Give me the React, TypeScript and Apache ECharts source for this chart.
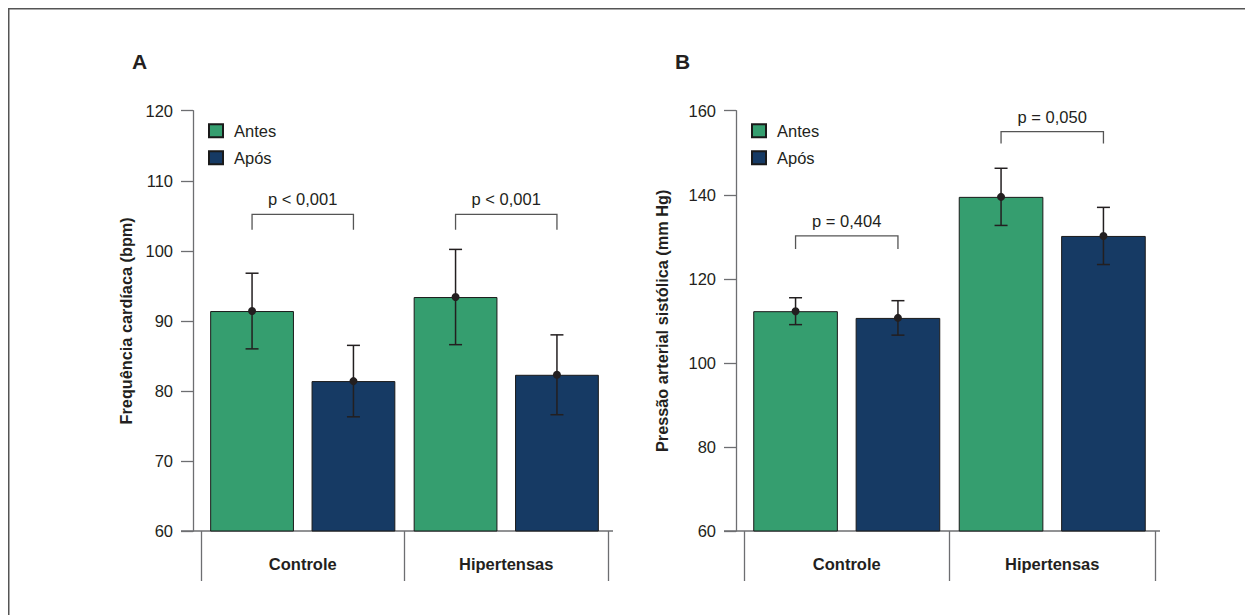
import React, { useEffect, useRef } from "react";
import * as echarts from "echarts";

// ---------- data ----------
const categories = ["Controle", "Hipertensas"];
const seriesNames = ["Antes", "Após"];

// Panel A – Frequência cardíaca (bpm)
const hrAntes = [91.4, 93.4];
const hrAntesSd = [5.4, 6.8];
const hrApos = [81.4, 82.3];
const hrAposSd = [5.1, 5.7];
const hrBrackets = [
  [0, 105.2, 103.0],
  [1, 105.2, 103.0],
];
const hrBracketLabels = ["p < 0,001", "p < 0,001"];

// Panel B – Pressão arterial sistólica (mm Hg)
const paAntes = [112.3, 139.5];
const paAntesSd = [3.2, 6.8];
const paApos = [110.7, 130.2];
const paAposSd = [4.1, 6.8];
const paBrackets = [
  [0, 130.2, 127.1],
  [1, 155.0, 152.2],
];
const paBracketLabels = ["p = 0,404", "p = 0,050"];

// ---------- style ----------
const GREEN = "#359e6f";
const NAVY = "#163a64";
const INK = "#231f20";
const AXIS = "#6d6e71";
const FONT = "'Liberation Sans', Arial, sans-serif";
const FS = 16.5;
const CAT_GAP = 0.09;
const BAR_GAP = 0.21;

const W = 1245;
const H = 607;
const TOP = 102.7;
const HEIGHT = 420.3;
const panels = [
  { left: 193, width: 407, nameGap: 59 },
  { left: 736, width: 411, nameGap: 66 },
];

function slotOffset(api: any, slot: number) {
  const band = api.size([1, 0])[0];
  const bw = (band * (1 - CAT_GAP)) / (2 + BAR_GAP);
  return (slot === 0 ? -1 : 1) * (bw * (1 + BAR_GAP)) / 2;
}

function errorSeries(idx: number, means: number[], sds: number[], slot: number) {
  return {
    type: "custom",
    xAxisIndex: idx,
    yAxisIndex: idx,
    z: 5,
    silent: true,
    encode: { x: 0, y: [1, 2, 3] },
    data: means.map((m, i) => [i, m, m - sds[i], m + sds[i]]),
    renderItem: (params: any, api: any) => {
      const c = api.coord([api.value(0), api.value(1)]);
      const lo = api.coord([api.value(0), api.value(2)]);
      const hi = api.coord([api.value(0), api.value(3)]);
      const x = c[0] + slotOffset(api, slot);
      const cap = 6.5;
      const ls = { stroke: INK, lineWidth: 1.5 };
      return {
        type: "group",
        children: [
          { type: "line", shape: { x1: x, y1: hi[1], x2: x, y2: lo[1] }, style: ls },
          { type: "line", shape: { x1: x - cap, y1: hi[1], x2: x + cap, y2: hi[1] }, style: ls },
          { type: "line", shape: { x1: x - cap, y1: lo[1], x2: x + cap, y2: lo[1] }, style: ls },
          { type: "circle", shape: { cx: x, cy: c[1], r: 4 }, style: { fill: INK } },
        ],
      };
    },
  };
}

function bracketSeries(idx: number, rows: number[][], labels: string[]) {
  return {
    type: "custom",
    xAxisIndex: idx,
    yAxisIndex: idx,
    z: 6,
    silent: true,
    encode: { x: 0, y: [1, 2] },
    data: rows,
    renderItem: (params: any, api: any) => {
      const top = api.coord([api.value(0), api.value(1)]);
      const leg = api.coord([api.value(0), api.value(2)]);
      const xl = top[0] + slotOffset(api, 0);
      const xr = top[0] + slotOffset(api, 1);
      return {
        type: "group",
        children: [
          {
            type: "polyline",
            shape: {
              points: [
                [xl, leg[1]],
                [xl, top[1]],
                [xr, top[1]],
                [xr, leg[1]],
              ],
            },
            style: { stroke: "#555", lineWidth: 1.3, fill: "none" },
          },
          {
            type: "text",
            x: top[0],
            y: top[1] - 15,
            style: {
              text: labels[params.dataIndex],
              fill: INK,
              font: `${FS}px ${FONT}`,
              align: "center",
              verticalAlign: "middle",
            },
          },
        ],
      };
    },
  };
}

function barSeries(idx: number, name: string, values: number[], color: string) {
  return {
    type: "bar",
    name,
    xAxisIndex: idx,
    yAxisIndex: idx,
    data: values,
    barCategoryGap: `${CAT_GAP * 100}%`,
    barGap: `${BAR_GAP * 100}%`,
    itemStyle: { color, borderColor: "#1a1a1a", borderWidth: 1 },
    silent: true,
  };
}

export default function App() {
  const ref = useRef<HTMLDivElement>(null);

  useEffect(() => {
    if (!ref.current) return;
    const chart = echarts.init(ref.current, undefined, { renderer: "svg" });

    const yAxes = [
      { min: 60, max: 120, interval: 10, name: "Frequência cardíaca (bpm)" },
      { min: 60, max: 160, interval: 20, name: "Pressão arterial sistólica (mm Hg)" },
    ].map((y, i) => ({
      type: "value",
      gridIndex: i,
      min: y.min,
      max: y.max,
      interval: y.interval,
      offset: 8,
      name: y.name,
      nameLocation: "middle",
      nameGap: panels[i].nameGap,
      nameTextStyle: { fontFamily: FONT, fontWeight: "bold", fontSize: 16.3, color: INK },
      axisLine: { show: true, lineStyle: { color: AXIS, width: 1.3 } },
      axisTick: { show: true, length: 12, lineStyle: { color: AXIS, width: 1.3 } },
      axisLabel: { margin: 20, fontFamily: FONT, fontSize: FS, color: INK },
      splitLine: { show: false },
    }));

    const xAxes = [0, 1].map((i) => ({
      type: "category",
      gridIndex: i,
      data: categories,
      boundaryGap: true,
      axisLine: { show: false },
      axisTick: { show: true, length: 50, lineStyle: { color: AXIS, width: 1.3 } },
      axisLabel: {
        margin: 24,
        fontFamily: FONT,
        fontSize: FS,
        fontWeight: "bold",
        color: INK,
      },
    }));

    const legends = panels.map((p) => ({
      orient: "vertical",
      left: p.left + 7,
      top: TOP + 10,
      padding: 0,
      itemWidth: 14,
      itemHeight: 13,
      itemGap: 7,
      selectedMode: false,
      icon: "rect",
      data: seriesNames,
      textStyle: {
        fontFamily: FONT,
        fontSize: FS,
        lineHeight: 20,
        color: INK,
        padding: [0, 0, 0, 6],
      },
    }));

    const baseY = TOP + HEIGHT;
    const graphic: any[] = [
      { type: "line", shape: { x1: 0, y1: 0.75, x2: W, y2: 0.75 }, style: { stroke: "#555", lineWidth: 1.5 }, silent: true },
      { type: "line", shape: { x1: 0.75, y1: 0, x2: 0.75, y2: H }, style: { stroke: "#555", lineWidth: 1.5 }, silent: true },
      ...panels.map((p) => ({
        type: "line",
        silent: true,
        shape: { x1: p.left - 20, y1: baseY, x2: p.left + p.width + 5, y2: baseY },
        style: { stroke: AXIS, lineWidth: 1.3 },
      })),
    ];

    chart.setOption({
      animation: false,
      backgroundColor: "#fff",
      textStyle: { fontFamily: FONT },
      title: [
        { text: "A", left: 124, top: 43, padding: 0, textStyle: { fontFamily: FONT, fontWeight: "bold", fontSize: 21, color: INK } },
        { text: "B", left: 667, top: 43, padding: 0, textStyle: { fontFamily: FONT, fontWeight: "bold", fontSize: 21, color: INK } },
      ],
      legend: legends,
      grid: panels.map((p) => ({ left: p.left, width: p.width, top: TOP, height: HEIGHT })),
      xAxis: xAxes,
      yAxis: yAxes,
      graphic,
      series: [
        barSeries(0, "Antes", hrAntes, GREEN),
        barSeries(0, "Após", hrApos, NAVY),
        barSeries(1, "Antes", paAntes, GREEN),
        barSeries(1, "Após", paApos, NAVY),
        errorSeries(0, hrAntes, hrAntesSd, 0),
        errorSeries(0, hrApos, hrAposSd, 1),
        errorSeries(1, paAntes, paAntesSd, 0),
        errorSeries(1, paApos, paAposSd, 1),
        bracketSeries(0, hrBrackets, hrBracketLabels),
        bracketSeries(1, paBrackets, paBracketLabels),
      ],
    });

    return () => chart.dispose();
  }, []);

  return <div ref={ref} style={{ width: W, height: H }} />;
}
